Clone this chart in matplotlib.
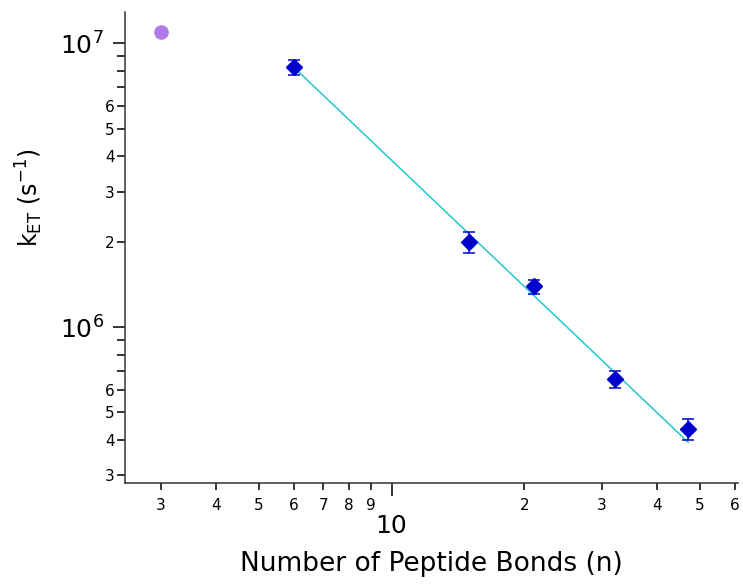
import numpy as np
import matplotlib
matplotlib.use('Agg')
import matplotlib.pyplot as plt
from matplotlib.ticker import LogLocator, FuncFormatter, LogFormatterMathtext, FixedLocator

# reference point (purple)
ref_n = [3]
ref_k = [1.10e7]

# peptide series (blue diamonds)
pep_n = [6, 15, 21, 32, 47]
pep_k = [8.23e6, 1.99e6, 1.39e6, 6.56e5, 4.37e5]
pep_err = [0.52e6, 0.17e6, 0.08e6, 0.45e5, 0.37e5]

# power-law fit k = A * n^b
fit_A = 1.17e8
fit_b = -1.48

plt.rcParams['mathtext.default'] = 'regular'
plt.rcParams['font.family'] = 'DejaVu Sans'

dpi = 100
fig = plt.figure(figsize=(743 / dpi, 586 / dpi), dpi=dpi)
ax = fig.add_axes([0.1682, 0.1758, 0.8245, 0.8037])

ax.set_xscale('log')
ax.set_yscale('log')

nfit = np.linspace(min(pep_n), max(pep_n), 100)
ax.plot(nfit, fit_A * nfit ** fit_b, color='#22c8cc', lw=1.1, zorder=2)

ax.errorbar(pep_n, pep_k, yerr=pep_err, fmt='D', color='#0000cc', ms=8.5,
            capsize=4, elinewidth=1.1, capthick=1.1, zorder=3)
ax.plot(ref_n, ref_k, 'o', color='#b07be8', ms=9.5, zorder=3)

ax.set_xlim(2.49, 60.8)
ax.set_ylim(2.82e5, 1.29e7)

for s in ['top', 'right']:
    ax.spines[s].set_visible(False)
for s in ['left', 'bottom']:
    ax.spines[s].set_linewidth(1.1)
    ax.spines[s].set_color('#333333')

ax.xaxis.set_major_locator(FixedLocator([10]))
ax.xaxis.set_major_formatter(FuncFormatter(lambda v, p: '10'))
ax.xaxis.set_minor_locator(LogLocator(base=10, subs=np.arange(2, 10), numticks=20))


def lead_digit(v):
    return int(round(v / 10 ** np.floor(np.log10(v) + 1e-9)))


ax.xaxis.set_minor_formatter(FuncFormatter(lambda v, p: str(lead_digit(v))))

ax.yaxis.set_major_locator(LogLocator(base=10, numticks=20))
ax.yaxis.set_major_formatter(LogFormatterMathtext())
ax.yaxis.set_minor_locator(LogLocator(base=10, subs=np.arange(2, 10), numticks=20))
ax.yaxis.set_minor_formatter(FuncFormatter(
    lambda v, p: str(lead_digit(v)) if lead_digit(v) <= 6 else ''))

ax.tick_params(axis='x', which='major', length=9.5, width=1.1, labelsize=18, pad=13)
ax.tick_params(axis='x', which='minor', length=5, width=1.1, labelsize=11, pad=6)
ax.tick_params(axis='y', which='major', length=9, width=1.1, labelsize=18, pad=6)
ax.tick_params(axis='y', which='minor', length=5.5, width=1.1, labelsize=11, pad=2)

ax.set_xlabel('Number of Peptide Bonds (n)', fontsize=19, labelpad=9)
ax.set_ylabel('k$_{ET}$ (s$^{-1}$)', fontsize=17)
ax.yaxis.set_label_coords(-0.13, 0.605)

fig.savefig('out.png', dpi=dpi)
